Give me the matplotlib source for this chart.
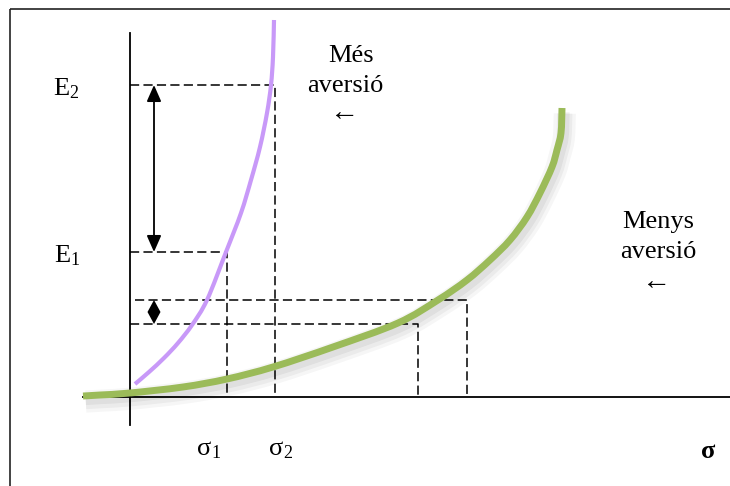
import matplotlib
matplotlib.use("Agg")
import matplotlib.pyplot as plt
import matplotlib.patheffects as pe
from matplotlib.path import Path
from matplotlib.patches import PathPatch
import numpy as np

# ---- data (sigma, expected return) in diagram units; origin = axes crossing ----
purple_sigma = [5, 19, 34, 48, 62, 77, 96, 111, 121, 130, 137, 141, 143, 144]
purple_E = [13, 25, 39, 54, 72, 97, 145, 184, 217, 250, 284, 312, 340, 377]

green_sigma = [-47, -30, 0, 53, 97, 143, 203, 268, 308, 337, 360, 380, 397, 410, 422, 427, 431, 432]
green_E = [1, 2, 4, 10, 18, 30, 50, 74, 97, 117, 137, 157, 180, 204, 230, 247, 264, 289]

E_levels = {"E1": 145, "E2": 312}
sigma_levels = {"s1": 97, "s2": 145}
green_pairs = [(288, 73), (337, 97)]   # (sigma, E) points on the less-averse curve
green_line2_start = 5

plt.rcParams['font.family'] = ['Liberation Serif', 'DejaVu Serif']

fig = plt.figure(figsize=(7.3, 4.86), dpi=100)
ax = fig.add_axes([0, 0, 1, 1])
XMIN, XMAX, YMIN, YMAX = -130, 600, -89, 397
ax.set_xlim(XMIN, XMAX)
ax.set_ylim(YMIN, YMAX)
ax.axis('off')


def smooth_path(xs, ys):
    pts = np.column_stack([xs, ys]).astype(float)
    verts = [pts[0]]
    codes = [Path.MOVETO]
    n = len(pts)
    for i in range(n - 1):
        p0 = pts[i - 1] if i > 0 else pts[i]
        p1 = pts[i]
        p2 = pts[i + 1]
        p3 = pts[i + 2] if i + 2 < n else pts[i + 1]
        verts += [p1 + (p2 - p0) / 6.0, p2 - (p3 - p1) / 6.0, p2]
        codes += [Path.CURVE4] * 3
    return Path(np.array(verts), codes)


# frame (only left and top edges visible) - kept inside the canvas
ax.plot([-120.5, -120.5], [YMIN, 387.5], color='#222222', lw=1.2, solid_capstyle='butt')
ax.plot([-120.5, XMAX], [387.5, 387.5], color='#222222', lw=1.2, solid_capstyle='butt')

# axes
ax.plot([0, 0], [-28, 364], color='black', lw=1.3)
ax.plot([-47, XMAX], [0, 0], color='black', lw=1.3)

dash = dict(color='black', lw=1.1, linestyle=(0, (6, 2.8)))
ax.plot([0, sigma_levels["s2"], sigma_levels["s2"]], [E_levels["E2"], E_levels["E2"], 0], **dash)
ax.plot([0, sigma_levels["s1"], sigma_levels["s1"]], [E_levels["E1"], E_levels["E1"], 0], **dash)
s_a, e_a = green_pairs[0]
s_b, e_b = green_pairs[1]
ax.plot([0, s_a, s_a], [e_a, e_a, 0], **dash)
ax.plot([green_line2_start, s_b, s_b], [e_b, e_b, 0], **dash)

# curves
shadow = [pe.SimpleLineShadow(offset=(2, -4), shadow_color='black', alpha=0.035, linewidth=16),
          pe.SimpleLineShadow(offset=(2, -4), shadow_color='black', alpha=0.045, linewidth=11),
          pe.SimpleLineShadow(offset=(2, -3), shadow_color='black', alpha=0.05, linewidth=7),
          pe.Normal()]
green_patch = PathPatch(smooth_path(green_sigma, green_E), fill=False, edgecolor='#9BBB59',
                        lw=5, capstyle='butt', joinstyle='round', zorder=3)
green_patch.set_path_effects(shadow)
ax.add_patch(green_patch)
ax.add_patch(PathPatch(smooth_path(purple_sigma, purple_E), fill=False, edgecolor='#C899F8',
                       lw=3, capstyle='butt', joinstyle='round', zorder=3))

# arrows
arrow_x = 24
ax.annotate('', xy=(arrow_x, E_levels["E2"]), xytext=(arrow_x, E_levels["E1"]),
            arrowprops=dict(arrowstyle='<|-|>,head_length=0.5,head_width=0.22', color='black', lw=1.3,
                            mutation_scale=20, shrinkA=0, shrinkB=0))
# small double arrow: two heads meeting -> diamond
mid = (e_a + e_b) / 2.0
hw = 6.5
ax.fill([arrow_x - hw, arrow_x, arrow_x + hw, arrow_x], [mid, e_b, mid, e_a],
        color='black', lw=0)

FS = 19
SUB = 13


def sub_label(x, y, main, sub, bold=False):
    t = ax.text(x, y, main, fontsize=FS, ha='left', va='baseline',
                fontweight='bold' if bold else 'normal')
    fig.canvas.draw()
    bb = t.get_window_extent()
    inv = ax.transData.inverted()
    x1 = inv.transform((bb.x1, bb.y0))[0]
    ax.text(x1, y - 3, sub, fontsize=SUB, ha='left', va='baseline')


sub_label(-77, 302, 'E', '2')
sub_label(-76, 135, 'E', '1')
sub_label(67, -58, 'σ', '1')
sub_label(139, -58, 'σ', '2')
ax.text(578, -61, 'σ', fontsize=FS, fontweight='bold', ha='center', va='baseline')

ax.text(221, 335, 'Més', fontsize=FS, ha='center', va='baseline')
ax.text(215, 305, 'aversió', fontsize=FS, ha='center', va='baseline')
ax.text(215, 284, '←', fontsize=FS + 2, ha='center', va='center')

ax.text(528, 169, 'Menys', fontsize=FS, ha='center', va='baseline')
ax.text(528, 139, 'aversió', fontsize=FS, ha='center', va='baseline')
ax.text(527, 115, '←', fontsize=FS + 2, ha='center', va='center')

fig.savefig('out.png', dpi=100, facecolor='white')
